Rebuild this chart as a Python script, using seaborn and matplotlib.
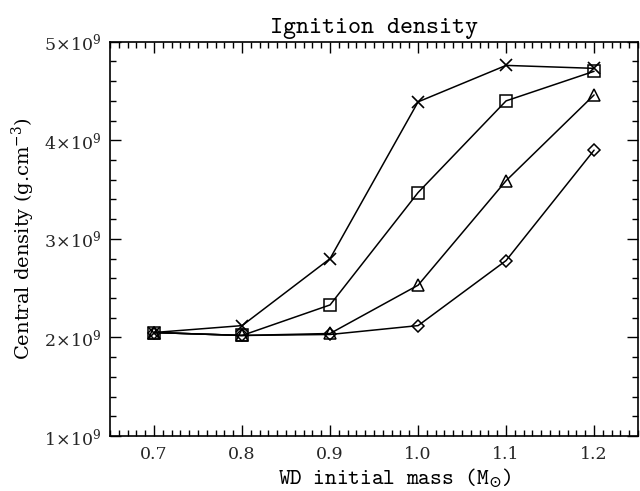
import matplotlib
matplotlib.use("Agg")
import matplotlib.pyplot as plt
import seaborn as sns
import pandas as pd
from matplotlib.ticker import MultipleLocator, FixedLocator, FixedFormatter

# ---- data ----
mass = [0.7, 0.8, 0.9, 1.0, 1.1, 1.2]
dens_cross = [2.05e9, 2.12e9, 2.80e9, 4.39e9, 4.76e9, 4.73e9]
dens_square = [2.05e9, 2.02e9, 2.33e9, 3.47e9, 4.40e9, 4.70e9]
dens_triangle = [2.05e9, 2.02e9, 2.04e9, 2.53e9, 3.59e9, 4.46e9]
dens_diamond = [2.05e9, 2.02e9, 2.03e9, 2.12e9, 2.78e9, 3.90e9]
ytick_vals = [1e9, 2e9, 3e9, 4e9, 5e9]
ytick_labels = [r"$1\!\times\!10^{9}$", r"$2\!\times\!10^{9}$", r"$3\!\times\!10^{9}$",
                r"$4\!\times\!10^{9}$", r"$5\!\times\!10^{9}$"]
xtick_vals = [0.7, 0.8, 0.9, 1.0, 1.1, 1.2]
xtick_labels = ["0.7", "0.8", "0.9", "1.0", "1.1", "1.2"]

sns.set_theme(style="white")
plt.rcParams["font.family"] = ["DejaVu Serif"]
plt.rcParams["mathtext.fontset"] = "dejavuserif"
plt.rcParams["axes.unicode_minus"] = False

fig = plt.figure(figsize=(6.4, 4.91), dpi=100)
ax = fig.add_axes([0.172, 0.112, 0.825, 0.803])

series = [
    (dens_cross, "x", 9, 1.2),
    (dens_square, "s", 8.5, 1.1),
    (dens_triangle, "^", 9, 1.1),
    (dens_diamond, "D", 6.5, 1.1),
]
for vals, mk, ms, mew in series:
    df = pd.DataFrame({"mass": mass, "dens": vals})
    sns.lineplot(data=df, x="mass", y="dens", ax=ax, color="black", lw=1.1,
                 marker=mk, markersize=ms, markerfacecolor="none",
                 markeredgecolor="black", markeredgewidth=mew)

ax.set_xlim(0.65, 1.25)
ax.set_ylim(1e9, 5e9)
ax.xaxis.set_major_locator(FixedLocator(xtick_vals))
ax.xaxis.set_major_formatter(FixedFormatter(xtick_labels))
ax.xaxis.set_minor_locator(MultipleLocator(0.01))
ax.yaxis.set_major_locator(FixedLocator(ytick_vals))
ax.yaxis.set_major_formatter(FixedFormatter(ytick_labels))
ax.yaxis.set_minor_locator(MultipleLocator(0.2e9))

ax.tick_params(which="both", direction="in", top=True, right=True,
               bottom=True, left=True, color="black", width=1.0)
ax.tick_params(which="major", length=8, labelsize=12.5, pad=6)
ax.tick_params(axis="x", which="major", pad=7)
ax.tick_params(which="minor", length=4)
for s in ax.spines.values():
    s.set_color("black")
    s.set_linewidth(1.2)

mono = ["cmtt10", "DejaVu Sans Mono"]
ax.set_title("Ignition density", fontsize=17.8, pad=6, color="black",
             fontfamily=mono)
ax.set_xlabel(r"WD initial mass (M$_{\odot}$)", fontsize=16, color="black",
              fontfamily=mono, va="baseline")
ax.xaxis.set_label_coords(0.54, -0.123)
ax.set_ylabel(r"Central density (g.cm$^{-3}$)", fontsize=14, color="black",
              labelpad=5)

fig.savefig("out.png", dpi=100)
